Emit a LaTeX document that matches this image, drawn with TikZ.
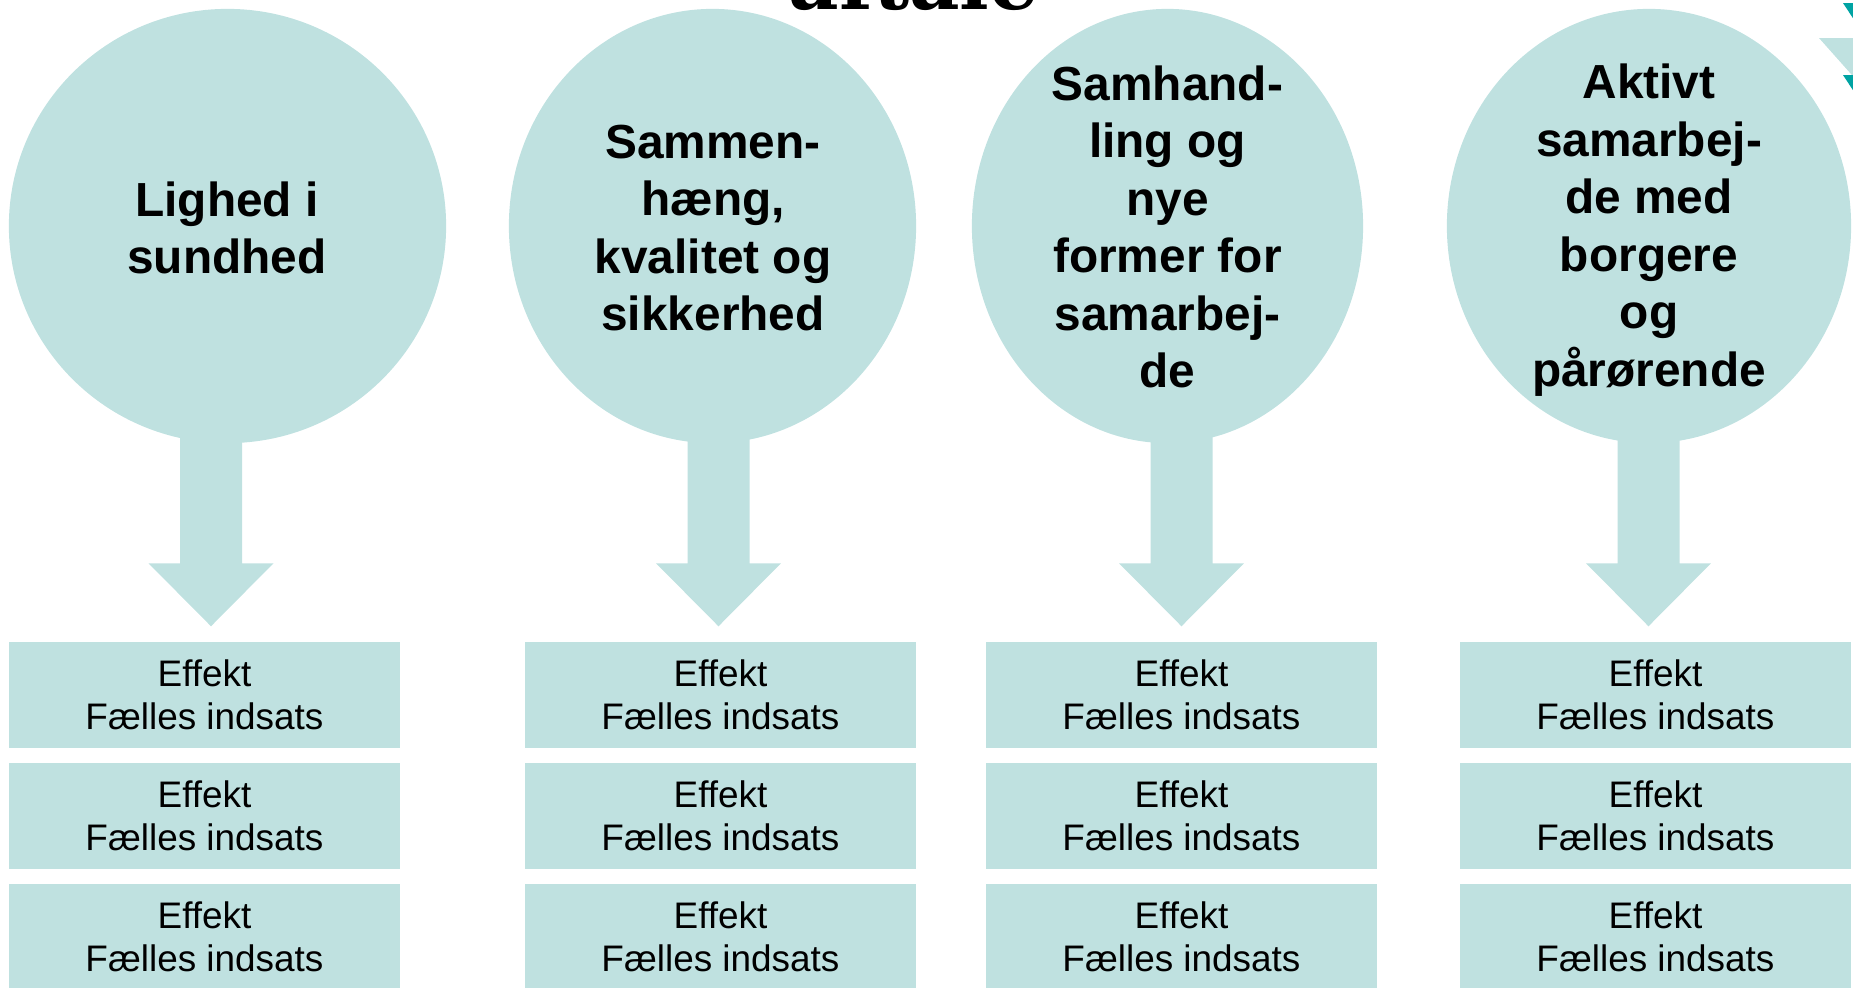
\documentclass[tikz,border=0pt]{standalone}
\usepackage{fontspec}
\setmainfont{Liberation Sans}
\newfontfamily\titlefont{DejaVu Serif}
\usetikzlibrary{shapes.geometric,calc}
\definecolor{teallight}{RGB}{191,225,224}
\definecolor{tealdark}{RGB}{0,163,163}
\begin{document}
\begin{tikzpicture}[x=0.01cm,y=-0.01cm,
  bubble/.style={ellipse, fill=teallight, inner sep=0pt, minimum height=4.34cm},
  bubtext/.style={align=center, inner sep=0pt, font=\bfseries\fontsize{13.6pt}{16.36pt}\selectfont},
  effbox/.style={rectangle, fill=teallight, minimum width=3.91cm, minimum height=1.06cm, inner sep=0pt, align=center, font=\fontsize{10.5pt}{12.23pt}\selectfont},
  blockarrow/.style={fill=teallight},
  deco/.style={fill=tealdark},
  decolight/.style={fill=teallight}]
\useasboundingbox (0,0) rectangle (1853,987);

% title (cut off at the top, as in the reference)
\node[anchor=base, inner sep=0pt, font=\titlefont\bfseries\fontsize{22.2pt}{25pt}\selectfont] (title) at (914,9) {aftale};

% corner decoration
\fill[deco] (1843,3) -- (1890,3) -- (1866,38) -- cycle;
\fill[decolight] (1819,38) -- (1915,38) -- (1867,92) -- cycle;
\fill[deco] (1843,75) -- (1890,75) -- (1866,110) -- cycle;

% bubbles
\node[bubble, minimum width=4.37cm] (e1) at (227.5,226) {};
\node[bubble, minimum width=4.07cm] (e2) at (712.5,226) {};
\node[bubble, minimum width=3.91cm] (e3) at (1167.5,226) {};
\node[bubble, minimum width=4.04cm] (e4) at (1649,226) {};

\node[bubtext] (t1) at (227,228) {Lighed i\\sundhed};
\node[bubtext] (t2) at (713,228) {Sammen-\\hæng,\\kvalitet og\\sikkerhed};
\node[bubtext] (t3) at (1167.5,227) {Samhand-\\ling og\\nye\\former for\\samarbej-\\de};
\node[bubtext] (t4) at (1649,230) {Aktivt\\samarbej-\\de med\\borgere\\og\\pårørende};

% boxes
\foreach \c/\x in {1/204.5, 2/720.5, 3/1181.5, 4/1655.5}{
  \foreach \r/\y in {1/695, 2/816, 3/937}{
    \node[effbox] (b\c\r) at (\x,\y) {Effekt\\Fælles indsats};
  }
}

% block arrows from bubble to first box
\foreach \c/\ax in {1/211, 2/718.5, 3/1181.5, 4/1648.5}{
  \coordinate (s\c) at (\ax,400);
  \coordinate (h\c) at ($(\ax,0)!(b\c1.north)!(\ax,1000)+(0,-15)$);
  \fill[blockarrow] ($(s\c)+(-31,0)$) -- ($(s\c)+(31,0)$) -- ($(h\c)+(31,-63)$) -- ($(h\c)+(62.5,-63)$) -- (h\c) -- ($(h\c)+(-62.5,-63)$) -- ($(h\c)+(-31,-63)$) -- cycle;
}
\end{tikzpicture}
\end{document}
